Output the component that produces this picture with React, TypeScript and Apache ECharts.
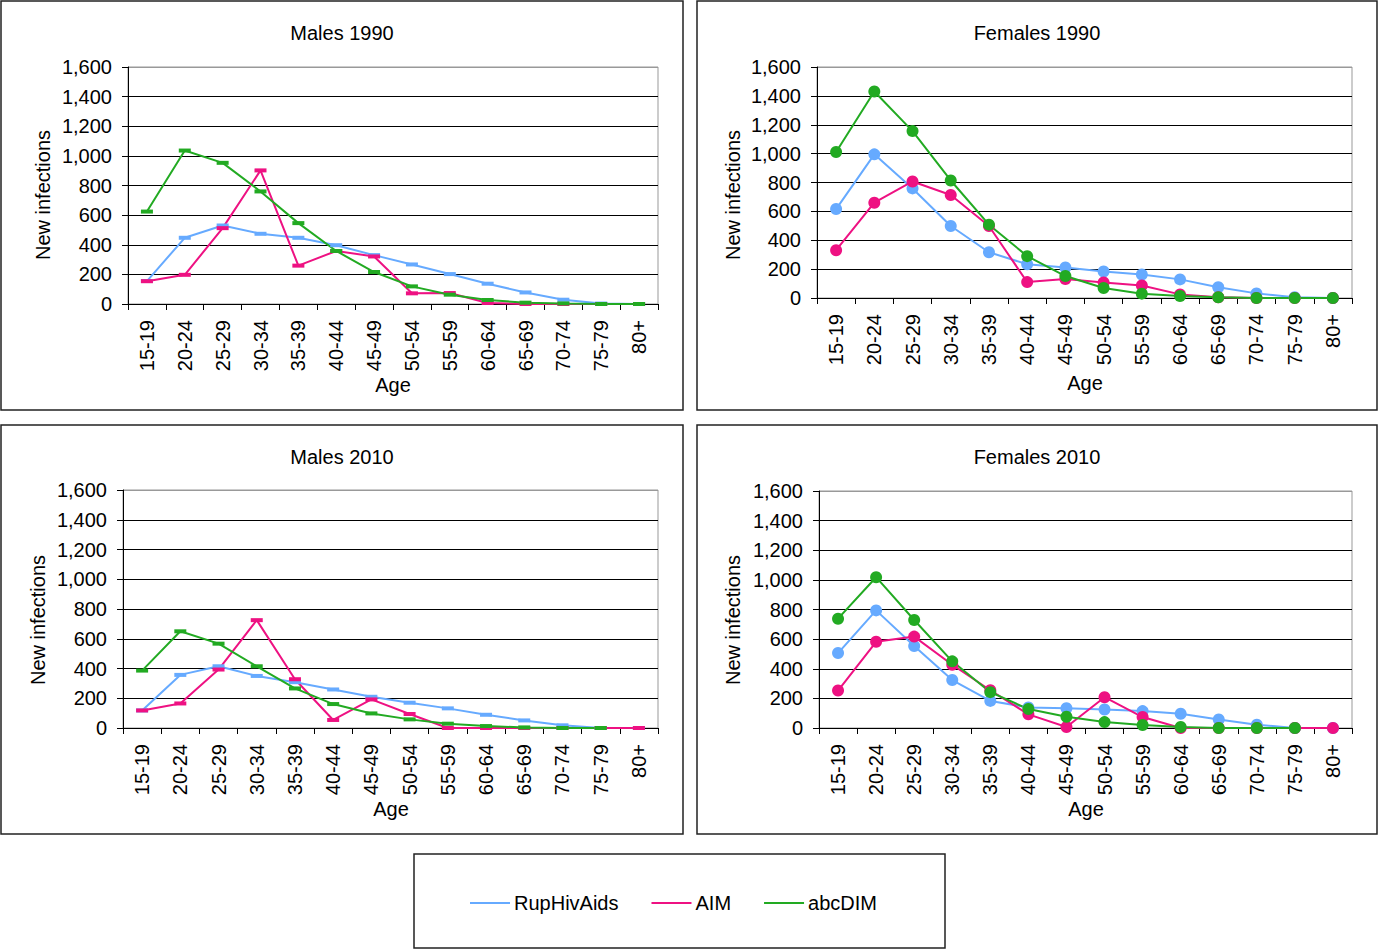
import React, { useEffect, useRef } from "react";
import * as echarts from "echarts";

// Age groups on the category axis
const ages = ["15-19", "20-24", "25-29", "30-34", "35-39", "40-44", "45-49", "50-54", "55-59", "60-64", "65-69", "70-74", "75-79", "80+"];

// Tick values for the "New infections" axis
const yTicks = [0, 200, 400, 600, 800, 1000, 1200, 1400, 1600];

const seriesNames = ["RupHivAids", "AIM", "abcDIM"];

// Males 1990
const m1990Rup = [155, 447, 530, 474, 447, 397, 330, 267, 202, 137, 78, 29, 3, 0];
const m1990Aim = [154, 197, 512, 902, 259, 358, 321, 72, 74, 7, 0, 0, 0, 0];
const m1990Abc = [624, 1036, 953, 760, 546, 358, 216, 119, 63, 27, 9, 4, 0, 0];

// Females 1990
const f1990Rup = [616, 995, 759, 499, 317, 234, 211, 184, 163, 129, 74, 32, 5, 0];
const f1990Aim = [331, 660, 807, 713, 499, 110, 131, 108, 87, 25, 5, 0, 0, 0];
const f1990Abc = [1011, 1430, 1156, 814, 508, 290, 152, 69, 30, 14, 5, 0, 0, 0];

// Males 2010
const m2010Rup = [118, 357, 415, 350, 308, 259, 210, 170, 132, 89, 51, 18, 0, 0];
const m2010Aim = [118, 165, 393, 725, 328, 54, 192, 94, 0, 0, 0, 0, 0, 0];
const m2010Abc = [386, 650, 567, 415, 266, 161, 98, 58, 29, 13, 4, 0, 0, null];

// Females 2010
const f2010Rup = [506, 794, 553, 324, 183, 139, 134, 125, 114, 96, 58, 22, 0, 0];
const f2010Aim = [253, 582, 617, 427, 255, 92, 7, 208, 74, 0, 0, 0, 0, 0];
const f2010Abc = [738, 1018, 729, 450, 242, 128, 76, 40, 20, 7, 0, 0, 0, null];

const panelTitles = ["Males 1990", "Females 1990", "Males 2010", "Females 2010"];

const COLORS = ["#66aaff", "#ee1182", "#22aa22"];
const FONT = "'Liberation Sans', Arial, sans-serif";
const FS = 20;

// Layout of the four panels
const panels = [
  { box: [1, 1, 682, 409], grid: [128, 67, 530, 237], title: [342, 33], age: [393, 385], yName: [43, 195], marker: "rect", data: [m1990Rup, m1990Aim, m1990Abc] },
  { box: [697, 1, 680, 409], grid: [817, 67, 535, 231], title: [1037, 33], age: [1085, 383], yName: [733, 195], marker: "circle", data: [f1990Rup, f1990Aim, f1990Abc] },
  { box: [1, 425, 682, 409], grid: [123, 490, 535, 238], title: [342, 457], age: [391, 809], yName: [38, 620], marker: "rect", data: [m2010Rup, m2010Aim, m2010Abc] },
  { box: [697, 425, 680, 409], grid: [819, 491, 533, 237], title: [1037, 457], age: [1086, 809], yName: [733, 620], marker: "circle", data: [f2010Rup, f2010Aim, f2010Abc] },
];

export default function App() {
  const ref = useRef<HTMLDivElement>(null);

  useEffect(() => {
    if (!ref.current) return;
    const chart = echarts.init(ref.current, undefined, { renderer: "svg" });

    const textStyle = { fontFamily: FONT, fontSize: FS, color: "#000" };
    const splitColors = yTicks.map((v) => (v === yTicks[yTicks.length - 1] ? "#999" : "#000"));

    const grids = panels.map((p) => ({
      left: p.grid[0],
      top: p.grid[1],
      width: p.grid[2],
      height: p.grid[3],
      containLabel: false,
      outerBoundsMode: "none",
      show: true,
      borderColor: "#999",
      borderWidth: 1,
      backgroundColor: "transparent",
    }));

    const xAxes = panels.map((_, i) => ({
      type: "category",
      gridIndex: i,
      data: ages,
      boundaryGap: true,
      axisLine: { show: true, lineStyle: { color: "#000", width: 1 } },
      axisTick: { show: true, length: 6, alignWithLabel: false, interval: 0, lineStyle: { color: "#000" } },
      axisLabel: { interval: 0, rotate: 90, margin: 16, ...textStyle },
      splitLine: { show: false },
    }));

    const yAxes = panels.map((_, i) => ({
      type: "value",
      gridIndex: i,
      min: yTicks[0],
      max: yTicks[yTicks.length - 1],
      interval: yTicks[1] - yTicks[0],
      axisLine: { show: true, lineStyle: { color: "#000", width: 1 } },
      axisTick: { show: true, length: 6, lineStyle: { color: "#000" } },
      axisLabel: {
        margin: 16,
        ...textStyle,
        formatter: (v: number) => v.toLocaleString("en-US"),
      },
      splitLine: { show: true, lineStyle: { color: splitColors, width: 1 } },
    }));

    const series: any[] = [];
    panels.forEach((p, i) => {
      p.data.forEach((values, k) => {
        series.push({
          type: "line",
          name: seriesNames[k],
          xAxisIndex: i,
          yAxisIndex: i,
          data: values,
          symbol: p.marker,
          symbolSize: p.marker === "rect" ? [12, 4] : 12,
          showSymbol: true,
          lineStyle: { color: COLORS[k], width: 2 },
          itemStyle: { color: COLORS[k], borderWidth: 0 },
          emphasis: { disabled: true },
          connectNulls: false,
        });
      });
    });

    const graphic: any[] = [];
    panels.forEach((p) => {
      graphic.push({
        type: "rect",
        silent: true,
        z: -10,
        shape: { x: p.box[0], y: p.box[1], width: p.box[2], height: p.box[3] },
        style: { fill: "none", stroke: "#222", lineWidth: 1.5 },
      });
      graphic.push({
        type: "text",
        x: p.age[0],
        y: p.age[1],
        style: { text: "Age", font: `${FS}px ${FONT}`, fill: "#000", align: "center", verticalAlign: "middle" },
      });
      graphic.push({
        type: "text",
        x: p.yName[0],
        y: p.yName[1],
        rotation: Math.PI / 2,
        style: { text: "New infections", font: `${FS}px ${FONT}`, fill: "#000", align: "center", verticalAlign: "middle" },
      });
    });
    // Legend frame
    graphic.push({
      type: "rect",
      silent: true,
      z: -10,
      shape: { x: 414, y: 854, width: 531, height: 94 },
      style: { fill: "none", stroke: "#222", lineWidth: 1.5 },
    });

    const titles = panels.map((p, i) => ({
      text: panelTitles[i],
      left: p.title[0],
      top: p.title[1],
      textAlign: "center",
      textVerticalAlign: "middle",
      padding: 0,
      textStyle: { ...textStyle, fontWeight: "normal" },
    }));

    chart.setOption({
      animation: false,
      backgroundColor: "#fff",
      title: titles,
      grid: grids,
      xAxis: xAxes,
      yAxis: yAxes,
      series,
      legend: {
        data: seriesNames,
        left: 470,
        top: 893,
        icon: "rect",
        itemWidth: 40,
        itemHeight: 2,
        itemGap: 33,
        padding: 0,
        textStyle: { ...textStyle, padding: [0, 0, 0, -1] },
        selectedMode: false,
      },
      graphic,
    });

    return () => chart.dispose();
  }, []);

  return (
    <div
      ref={ref}
      style={{ position: "fixed", left: 0, top: 0, width: 1378, height: 949, background: "#fff" }}
    />
  );
}
